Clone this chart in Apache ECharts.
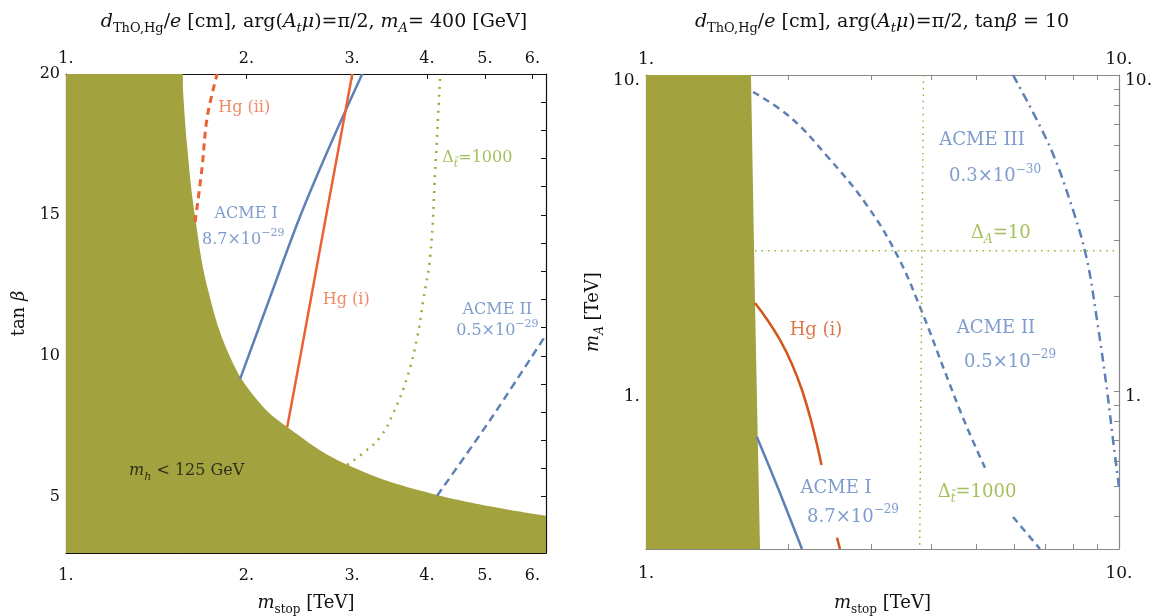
<!DOCTYPE html>
<html>
<head>
<meta charset="utf-8" />
<title>EDM limits</title>
<script src="https://cdn.jsdelivr.net/npm/echarts@6/dist/echarts.min.js"></script>
</head>
<body style="margin:0">
<div id="main" style="width:1153px;height:616px;"></div>
<script type="text/javascript">
// ---- left panel: m_A = 400 GeV, x = m_stop [TeV], y = tan beta ----
const leftHiggsFlat = [[1, 20], [1.566, 20]];
const leftHiggsEdge = [[1.562, 20], [1.592, 17.48], [1.642, 14.93], [1.726, 12.33], [1.878, 9.96],
  [2.084, 8.43], [2.339, 7.47], [2.945, 6.13], [4.16, 5.06], [6.33, 4.32]];
const leftHgII = [[1.642, 14.75], [1.685, 16.6], [1.72, 18.47], [1.787, 20]];
const leftAcmeI = [[1.952, 9.18], [2.191, 12.09], [2.459, 14.96], [2.759, 17.48], [3.12, 20]];
const leftHgI = [[2.339, 7.47], [2.459, 9.96], [2.651, 13.75], [3.003, 20]];
const leftDeltaT = [[2.945, 6.13], [3.132, 6.55], [3.344, 7.12], [3.516, 7.97], [3.71, 9.25], [3.855, 10.67],
  [3.945, 11.98], [4.053, 13.58], [4.13, 16.59], [4.21, 20]];
const leftAcmeII = [[4.16, 5.03], [5.1, 7.72], [6.32, 10.74]];

const leftXTicks = [2, 3, 4, 5, 6];
const leftXLabels = [1, 2, 3, 4, 5, 6];
const leftYTicks = [4, 5, 6, 7, 8, 9, 10, 11, 12, 13, 14, 15, 16, 17, 18, 19];
const leftYLabels = [5, 10, 15, 20];

// ---- right panel: tan beta = 10, x = m_stop [TeV], y = m_A [TeV] ----
const rightHiggsEdge = [[1, 10], [1.667, 10], [1.7, 1.9], [1.742, 0.316]];
const rightAcmeI = [[1.716, 0.715], [1.92, 0.475], [2.137, 0.316]];
const rightHgI = [[1.7, 1.898], [1.806, 1.677], [1.92, 1.45], [2.03, 1.226], [2.137, 1.007], [2.24, 0.792], [2.35, 0.583]];
const rightHgILow = [[2.534, 0.343], [2.571, 0.316]];
const rightAcmeII = [[1.684, 8.836], [2.016, 7.364], [2.413, 5.542], [2.918, 3.906], [3.394, 2.694], [3.833, 1.778],
  [4.287, 1.148], [4.748, 0.78], [5.208, 0.571]];
const rightAcmeIILow = [[5.97, 0.399], [6.808, 0.316]];
const rightAcmeIII = [[5.97, 10], [7.146, 5.918], [7.993, 3.74], [8.557, 2.598], [8.985, 1.677], [9.433, 1.007], [9.712, 0.7], [10, 0.497]];
const rightDeltaA = [[1.7, 2.78], [10, 2.78]];
const rightDeltaT = [[3.86, 10], [3.79, 0.316]];

const rightXTicks = [2, 3, 4, 5, 6, 7, 8, 9];
const rightYTicks = [0.4, 0.5, 0.6, 0.7, 0.8, 0.9, 1, 2, 3, 4, 5, 6, 7, 8, 9];
const rightLabels = [1, 10];

// annotations: [x, y, rich text, colour key]
const leftNotes = [
  [1.983, 18.79, '{r|Hg (ii)}', 'red'],
  [1.998, 15.03, '{r|ACME I}', 'blue'],
  [1.975, 14.11, '{r|8.7×10}{sup|−29}', 'blue'],
  [2.934, 11.98, '{r|Hg (i)}', 'red'],
  [4.855, 17.02, '{r|Δ}{isub|t\u0303}{r|=1000}', 'green'],
  [5.243, 11.63, '{r|ACME II}', 'blue'],
  [5.243, 10.88, '{r|0.5×10}{sup|−29}', 'blue'],
  [1.59, 5.91, '{i|m}{isub|h}{r| < 125 GeV}', 'black']
];
const rightNotes = [
  [5.134, 6.23, '{r|ACME III}', 'blue'],
  [5.47, 4.77, '{r|0.3×10}{sup|−30}', 'blue'],
  [5.625, 3.16, '{r|Δ}{isub|A}{r|=10}', 'green'],
  [2.288, 1.56, '{r|Hg (i)}', 'dark'],
  [5.495, 1.583, '{r|ACME II}', 'blue'],
  [5.884, 1.235, '{r|0.5×10}{sup|−29}', 'blue'],
  [2.522, 0.493, '{r|ACME I}', 'blue'],
  [2.739, 0.399, '{r|8.7×10}{sup|−29}', 'blue'],
  [5.01, 0.479, '{r|Δ}{isub|t\u0303}{r|=1000}', 'green']
];

const FONT = 'DejaVu Serif';
const OLIVE = '#a2a23e';
const BLUE = '#5e81b5';
const RED = '#eb6235';
const DARK = '#d4561c';
const GREEN = '#8fb032';
const noteColor = {red: '#ec6a40', blue: '#5f83c2', green: '#8fb032', black: '#111', dark: '#d4561c'};

function richSet(size) {
  return {
    r: {fontFamily: FONT, fontSize: size, lineHeight: size + 8, verticalAlign: 'middle'},
    i: {fontFamily: FONT, fontSize: size, fontStyle: 'italic', lineHeight: size + 8, verticalAlign: 'middle'},
    sub: {fontFamily: FONT, fontSize: Math.round(size * 0.68), verticalAlign: 'bottom'},
    isub: {fontFamily: FONT, fontSize: Math.round(size * 0.68), fontStyle: 'italic', verticalAlign: 'bottom'},
    sup: {fontFamily: FONT, fontSize: Math.round(size * 0.68), verticalAlign: 'top'}
  };
}

var chartDom = document.getElementById('main');
var myChart = echarts.init(chartDom);

function xAxis(grid, pos, min, max, ticks, labels, color, size, margin) {
  return {
    type: 'log', logBase: 10, gridIndex: grid, position: pos, min: min, max: max,
    axisLine: {show: true, onZero: false, lineStyle: {color: color, width: 1.2}},
    axisTick: {show: true, inside: true, length: 5, customValues: ticks, lineStyle: {color: color}},
    axisLabel: {show: true, customValues: labels, margin: margin, color: '#111',
      fontFamily: FONT, fontSize: size, formatter: function (v) { return Math.round(v) + '.'; }},
    splitLine: {show: false}
  };
}
function yAxis(grid, pos, type, min, max, ticks, labels, color, fmt, size, drop) {
  const label = {show: labels.length > 0, customValues: labels.length ? labels : [0], margin: 6, color: '#111',
    fontFamily: FONT, fontSize: size, formatter: fmt};
  if (drop) {
    label.verticalAlign = 'top';
    label.lineHeight = drop;
  }
  return {
    type: type, logBase: 10, gridIndex: grid, position: pos, min: min, max: max,
    axisLine: {show: true, onZero: false, lineStyle: {color: color, width: 1.2}},
    axisTick: {show: true, inside: true, length: 5, customValues: ticks, lineStyle: {color: color}},
    axisLabel: label,
    splitLine: {show: false}
  };
}

function curve(data, axis, color, dash, width, smooth) {
  return {
    type: 'line', xAxisIndex: axis, yAxisIndex: axis, data: data, symbol: 'none',
    smooth: smooth === undefined ? 0.35 : smooth,
    lineStyle: {color: color, type: dash, width: width, cap: 'butt'}, silent: true, z: 3
  };
}
function fill(data, axis, smooth) {
  return {
    type: 'line', xAxisIndex: axis, yAxisIndex: axis, data: data, symbol: 'none', smooth: smooth,
    lineStyle: {width: 0}, areaStyle: {color: OLIVE, opacity: 1, origin: 'start'}, silent: true, z: 2
  };
}
function notes(list, axis, size) {
  return {
    type: 'scatter', xAxisIndex: axis, yAxisIndex: axis, symbolSize: 1, silent: true, z: 5,
    itemStyle: {color: 'rgba(0,0,0,0)'},
    data: list.map(function (n) {
      return {value: [n[0], n[1]], label: {formatter: n[2], color: noteColor[n[3]]}};
    }),
    label: {show: true, position: 'inside', fontFamily: FONT, fontSize: size, rich: richSet(size)}
  };
}
function intFmt(v) { return Math.round(v) + '.'; }

var option = {
  animation: false,
  grid: [
    {left: 66, top: 74, width: 480, height: 479, outerBoundsMode: 'none', containLabel: false},
    {left: 646, top: 75, width: 473, height: 474, outerBoundsMode: 'none', containLabel: false}
  ],
  xAxis: [
    Object.assign(xAxis(0, 'bottom', 1, 6.32, leftXTicks, leftXLabels, '#111', 16, 15), {
      name: '{i|m}{sub|stop}{r| [TeV]}', nameLocation: 'middle', nameGap: 37,
      nameTextStyle: {color: '#111', rich: richSet(18)}
    }),
    xAxis(0, 'top', 1, 6.32, leftXTicks, leftXLabels, '#111', 16, 7),
    Object.assign(xAxis(1, 'bottom', 1, 10, rightXTicks, rightLabels, '#888', 17, 16), {
      name: '{i|m}{sub|stop}{r| [TeV]}', nameLocation: 'middle', nameGap: 41,
      nameTextStyle: {color: '#111', rich: richSet(18)}
    }),
    xAxis(1, 'top', 1, 10, rightXTicks, rightLabels, '#888', 17, 7)
  ],
  yAxis: [
    Object.assign(yAxis(0, 'left', 'value', 3, 20, leftYTicks, leftYLabels, '#111', function (v) { return v; }, 16, 0), {
      name: '{r|tan }{i|β}', nameLocation: 'middle', nameGap: 34,
      nameTextStyle: {color: '#111', rich: richSet(18)}
    }),
    yAxis(0, 'right', 'value', 3, 20, leftYTicks, [], '#111', function () { return ''; }, 16, 0),
    Object.assign(yAxis(1, 'left', 'log', 0.316, 10, rightYTicks, rightLabels, '#888', intFmt, 17, 12), {
      name: '{i|m}{isub|A}{r| [TeV]}', nameLocation: 'middle', nameGap: 40,
      nameTextStyle: {color: '#111', rich: richSet(18)}
    }),
    yAxis(1, 'right', 'log', 0.316, 10, rightYTicks, rightLabels, '#888', intFmt, 17, 12)
  ],
  graphic: [
    {type: 'text', x: 314, y: 22, style: {align: 'center', verticalAlign: 'middle', fill: '#111',
      text: '{i|d}{sub|ThO,Hg}{r|/}{i|e}{r| [cm], arg(}{i|A}{isub|t}{i|μ}{r|)=π/2, }{i|m}{isub|A}{r|= 400 [GeV]}',
      rich: richSet(19)}},
    {type: 'text', x: 882, y: 22, style: {align: 'center', verticalAlign: 'middle', fill: '#111',
      text: '{i|d}{sub|ThO,Hg}{r|/}{i|e}{r| [cm], arg(}{i|A}{isub|t}{i|μ}{r|)=π/2, tan}{i|β}{r| = 10}',
      rich: richSet(19)}}
  ],
  series: [
    fill(leftHiggsFlat, 0, false),
    fill(leftHiggsEdge, 0, 0.4),
    curve(leftHgII, 0, RED, [7, 5], 3),
    curve(leftAcmeI, 0, BLUE, 'solid', 2.5),
    curve(leftHgI, 0, RED, 'solid', 2.5, 0.2),
    curve(leftDeltaT, 0, GREEN, [2, 6], 2.5, 0.45),
    curve(leftAcmeII, 0, BLUE, [8, 5], 2.5, 0.2),
    notes(leftNotes, 0, 16),
    fill(rightHiggsEdge, 2, false),
    curve(rightAcmeI, 2, BLUE, 'solid', 2.5),
    curve(rightHgI, 2, DARK, 'solid', 2.5, 0.45),
    curve(rightHgILow, 2, DARK, 'solid', 2.5),
    curve(rightAcmeII, 2, BLUE, [7, 5], 2.5, 0.4),
    curve(rightAcmeIILow, 2, BLUE, [7, 5], 2.5),
    curve(rightAcmeIII, 2, BLUE, [9, 5, 2, 5], 2.5),
    curve(rightDeltaA, 2, GREEN, [1.5, 5], 1.5),
    curve(rightDeltaT, 2, GREEN, [1.5, 5], 1.5),
    notes(rightNotes, 2, 18)
  ]
};

option && myChart.setOption(option);
</script>
</body>
</html>
